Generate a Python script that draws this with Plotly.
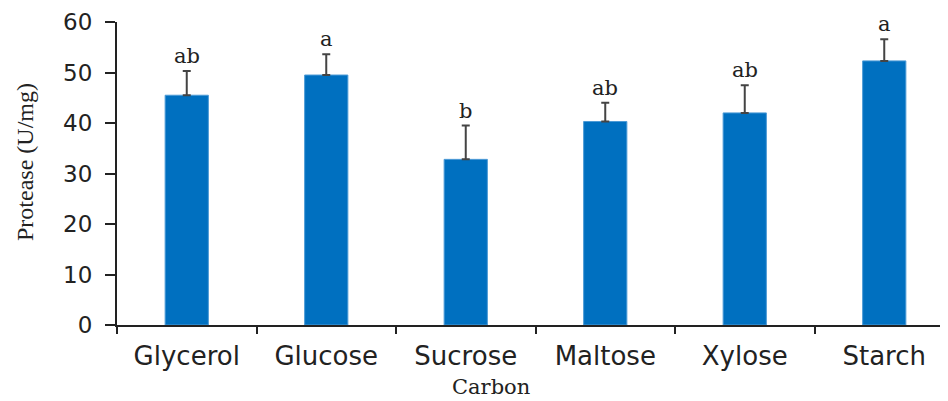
import plotly.graph_objects as go

categories = ["Glycerol", "Glucose", "Sucrose", "Maltose", "Xylose", "Starch"]
protease = [45.5, 49.5, 32.8, 40.3, 42.0, 52.3]
errors = [4.8, 4.1, 6.7, 3.7, 5.5, 4.3]
letters = ["ab", "a", "b", "ab", "ab", "a"]
y_ticks = [0, 10, 20, 30, 40, 50, 60]

# page body has an 8px margin, so the figure is offset by (8, 8)
OFF = 8
W, H = 948 - OFF, 401 - OFF
L, R, T, B = 117 - OFF, 0, 22 - OFF, 76

fig = go.Figure()
fig.add_trace(go.Bar(
    x=categories, y=protease, width=0.31,
    marker=dict(color="#0070C0", line=dict(color="#4d9bd6", width=1)),
    error_y=dict(type="data", symmetric=False, array=errors,
                 arrayminus=[0] * len(errors), color="#444444",
                 thickness=2, width=4),
    showlegend=False,
))

for c, v, e, t in zip(categories, protease, errors, letters):
    fig.add_annotation(x=c, y=v + e, text=t, showarrow=False,
                       yanchor="bottom", yshift=1,
                       font=dict(family="DejaVu Serif", size=21, color="#222222"))

# axis titles (positions in page pixels, converted to paper coords)
pw, ph = W - L - R, H - T - B
fig.add_annotation(xref="paper", yref="paper",
                   x=(491 - OFF - L) / pw, y=((H - B) - (387 - OFF)) / ph,
                   text="Carbon", showarrow=False, xanchor="center", yanchor="middle",
                   borderpad=0,
                   font=dict(family="DejaVu Serif", size=21, color="#222222"))
fig.add_annotation(xref="paper", yref="paper",
                   x=((25 - OFF) - L) / pw, y=((H - B) - (162 - OFF)) / ph,
                   text="Protease (U/mg)", showarrow=False, textangle=-90,
                   xanchor="center", yanchor="middle",
                   font=dict(family="Liberation Serif", size=24, color="#222222"))

fig.update_layout(
    width=W, height=H,
    margin=dict(l=L, r=R, t=T, b=B),
    plot_bgcolor="white", paper_bgcolor="white",
)
fig.update_xaxes(
    range=[-0.5, 5.457], automargin=False, showline=True, linecolor="#222222", linewidth=2,
    ticks="outside", tickson="boundaries", ticklen=7, tickwidth=2,
    tickcolor="#222222", ticklabelstandoff=7,
    tickfont=dict(family="DejaVu Sans", size=26, color="#222222"),
    showgrid=False,
)
fig.update_yaxes(
    range=[0, 60], automargin=False, tickvals=y_ticks, showline=True, linecolor="#222222",
    linewidth=2, ticks="outside", ticklen=10, tickwidth=2, tickcolor="#222222",
    tickfont=dict(family="DejaVu Sans", size=23, color="#222222"),
    ticklabelstandoff=8,
    showgrid=False, zeroline=False,
)

fig.write_html("out.html")
